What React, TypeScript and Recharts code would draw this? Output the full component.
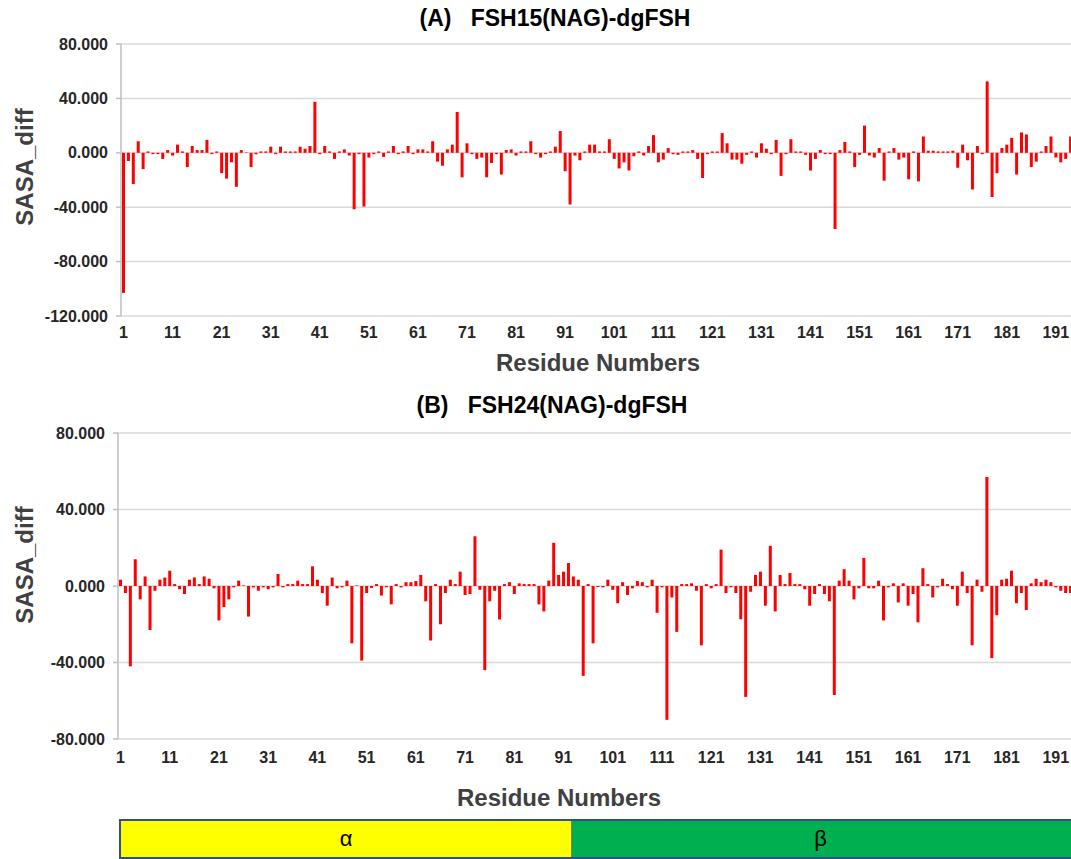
import { BarChart, Bar, XAxis, YAxis, CartesianGrid } from "recharts"

// residue index 1..194 (visible part of the figure)
const residues = Array.from({ length: 194 }, (_, i) => i + 1)

// (A) FSH15(NAG) - dgFSH, SASA difference per residue
const sasaA = [
  -103, -6, -23, 8.5, -12, 1, -1, -1, -4.5, 2,
  -2, 6, 1, -10.5, 5, 2, 2, 9.5, -1, 1,
  -15, -19, -7, -25, 2, 0.3, -10.5, -1, 1, 1,
  4.5, -1, 4.5, 1, 1, 1, 4.5, 3, 5, 37.5,
  -1, 5, 1, -4.5, 1, 2.5, -2, -41.5, -1, -39.5,
  -3.5, -1, 1, -3, 1, 5, -1, 1, 5, -1,
  2.5, 2.5, 1, 8.5, -6.5, -9.5, 2.5, 6, 30, -18,
  7, -1, -4.5, -3.5, -18, -7.5, -1, -16, 2, 2.5,
  -2, 1, 1, 8.5, -1, -3.5, -1, 1, 4.5, 16,
  -13.5, -38, -2, -5.5, 1, 6, 6, 1, 1, 10,
  -4.5, -11.5, -7, -13, -2.5, 1, -2, 5, 13, -7,
  -5, 3.5, -1, -1.5, 1, 1, 2, -4.5, -18.5, -1,
  1, 1, 14.5, 7, -5, -5, -8, -1.5, 1, -3.5,
  7, 3, -1, 9.5, -17, -1, 10, 1, 1, -1.5,
  -13, -4.5, 2, -1, -1, -56, 2, 8, 1, -10.5,
  -1.5, 20, -2, -3.5, 3.5, -20.5, 1, 3.5, -5, -3.5,
  -19.5, 1, -21, 12, 1.5, 1.5, 1, 1, 1, 1.5,
  -11, 6, -5.5, -27, 5, -1, 52.5, -32.5, -15, 3.5,
  6, 11, -16, 15, 13.5, -10.5, -6.5, 1, 5, 12,
  -3.5, -7, -4.5, 12
]

// (B) FSH24(NAG) - dgFSH
const sasaB = [
  3.3, -3.7, -42, 14, -7, 5, -23, -2.5, 3.3, 4.4,
  8, 1, -1.7, -4.2, 3.3, 4.5, 1, 5, 3.8, -1.2,
  -18, -11, -7, -0.7, 2.8, 0.3, -16, -0.7, -2.5, -0.7,
  -1.7, -0.7, 6.3, -0.7, 1, 1, 2.8, 1, 1, 10.3,
  3.3, -3.7, -10.3, 4.4, -1.2, -0.7, 2.8, -30, 0.3, -39,
  -3.7, -1, 1, -5, -0.7, -9.6, 1, -0.7, 2, 2,
  2.6, 5.8, -8, -28.5, 1, -20, -3.7, 3.3, 1, 7.5,
  -4.7, -4.2, 26, -2, -44, -8, -2.5, -17.5, 1, 2,
  -4.2, 1.4, 1, 1, 1, -9.6, -13.3, 2.8, 22.6, 5.8,
  7.5, 12, 5, 3.3, -47, 1, -30, -0.5, -0.7, 3.3,
  -2, -9, 2, -4.7, -1.2, 2.6, 2, -0.7, 3.3, -14,
  -0.7, -70, -6, -24, 1, 1, 1.4, -2.5, -31, 1,
  -1.2, 1, 19, -3.7, -0.7, -3.7, -17.4, -58, -3, 5.8,
  7.5, -10.3, 21, -13.3, 5.8, 1, 6.8, 1, 1, -1.7,
  -10.3, -4.2, 1, -4.2, -8, -57, 2.8, 8.8, 2.8, -7,
  -1.2, 14.7, -1.2, -1.2, 2.8, -18, -0.7, 1.4, -8.6, 1.4,
  -10.3, -4.2, -19, 9.3, 1, -6, -0.7, 3.8, 1, -1.7,
  -10.3, 7.5, -3.7, -31, 3.3, -3, 57, -37.7, -15.3, 3.3,
  3.8, 8, -9, -3.7, -12.6, 1.4, 3.8, 2, 3.3, 2,
  -0.7, -2.5, -3.7, -3.7
]

const ticksA = [-120, -80, -40, 0, 40, 80]
const ticksB = [-80, -40, 0, 40, 80]

const FONT = '"Liberation Sans", Arial, Helvetica, sans-serif'
const GRID = "#d9d9d9"
const AXIS = "#bfbfbf"
const TEXT = "#262626"
const TITLE = "#404040"

function Panel({ values, ticks, top, width, height, yAxisW, marginTop, marginBottom, xTickMargin }: any) {
  const data = residues.map((r, i) => ({ res: r, v: values[i] }))
  return (
    <div style={{ position: "absolute", left: 0, top }}>
      <BarChart
        width={width}
        height={height}
        data={data}
        margin={{ top: marginTop, right: 0, left: 0, bottom: marginBottom }}
        barCategoryGap="19%"
      >
        <CartesianGrid vertical={false} stroke={GRID} strokeWidth={1.5} />
        <XAxis
          dataKey="res"
          interval={9}
          height={30}
          axisLine={false}
          tickLine={false}
          tickSize={0}
          tickMargin={xTickMargin}
          tick={{ fontSize: 16, fontWeight: "bold", fill: TEXT, fontFamily: FONT }}
        />
        <YAxis
          width={yAxisW}
          domain={[ticks[0], ticks[ticks.length - 1]]}
          ticks={ticks}
          interval={0}
          allowDataOverflow
          axisLine={{ stroke: AXIS, strokeWidth: 1.5 }}
          tickLine={{ stroke: AXIS, strokeWidth: 1.5 }}
          tickSize={5}
          tickMargin={8}
          tickFormatter={(v: number) => v.toFixed(3)}
          tick={{ fontSize: 16, fontWeight: "bold", fill: TEXT, fontFamily: FONT }}
        />
        <Bar dataKey="v" fill="#ff0000" barSize={3} isAnimationActive={false} />
      </BarChart>
    </div>
  )
}

function Label({ x, y, text, size, color, rotate = 0, weight = "bold" }: any) {
  return (
    <div
      style={{
        position: "absolute",
        left: x,
        top: y,
        transform: `translate(-50%, -50%) rotate(${rotate}deg)`,
        whiteSpace: "pre",
        fontSize: size,
        fontWeight: weight,
        color,
        fontFamily: FONT,
        lineHeight: 1,
      }}
    >
      {text}
    </div>
  )
}

export default function App() {
  return (
    <div
      style={{
        position: "absolute",
        left: 0,
        top: 0,
        width: 1071,
        height: 859,
        overflow: "hidden",
        background: "#fff",
        fontFamily: FONT,
      }}
    >
      <Panel values={sasaA} ticks={ticksA} top={0} width={1073} height={360} yAxisW={121} marginTop={44} marginBottom={14} xTickMargin={11} />
      <Panel values={sasaB} ticks={ticksB} top={390} width={1073} height={390} yAxisW={118} marginTop={43} marginBottom={11} xTickMargin={13} />

      <Label x={555} y={18} text={"(A)   FSH15(NAG)-dgFSH"} size={23} color="#000" />
      <Label x={552} y={405} text={"(B)   FSH24(NAG)-dgFSH"} size={23} color="#000" />
      <Label x={25} y={167} text="SASA_diff" size={24} color={TITLE} rotate={-90} />
      <Label x={25} y={565} text="SASA_diff" size={24} color={TITLE} rotate={-90} />
      <Label x={598} y={363} text="Residue Numbers" size={24} color={TITLE} />
      <Label x={559} y={798} text="Residue Numbers" size={24} color={TITLE} />

      {/* subunit strip below panel B */}
      <div style={{ position: "absolute", left: 119, top: 819, width: 960, height: 40, border: "2px solid #2f4f8f", boxSizing: "border-box", display: "flex" }}>
        <div style={{ width: 450, background: "#ffff00", borderRight: "1.5px solid #7f7f3f", display: "flex", alignItems: "center", justifyContent: "center", fontSize: 22, color: "#000" }}>α</div>
        <div style={{ flex: 1, background: "#00b050", display: "flex", alignItems: "center", justifyContent: "center", fontSize: 22, color: "#000", paddingRight: 8 }}>β</div>
      </div>
    </div>
  )
}
